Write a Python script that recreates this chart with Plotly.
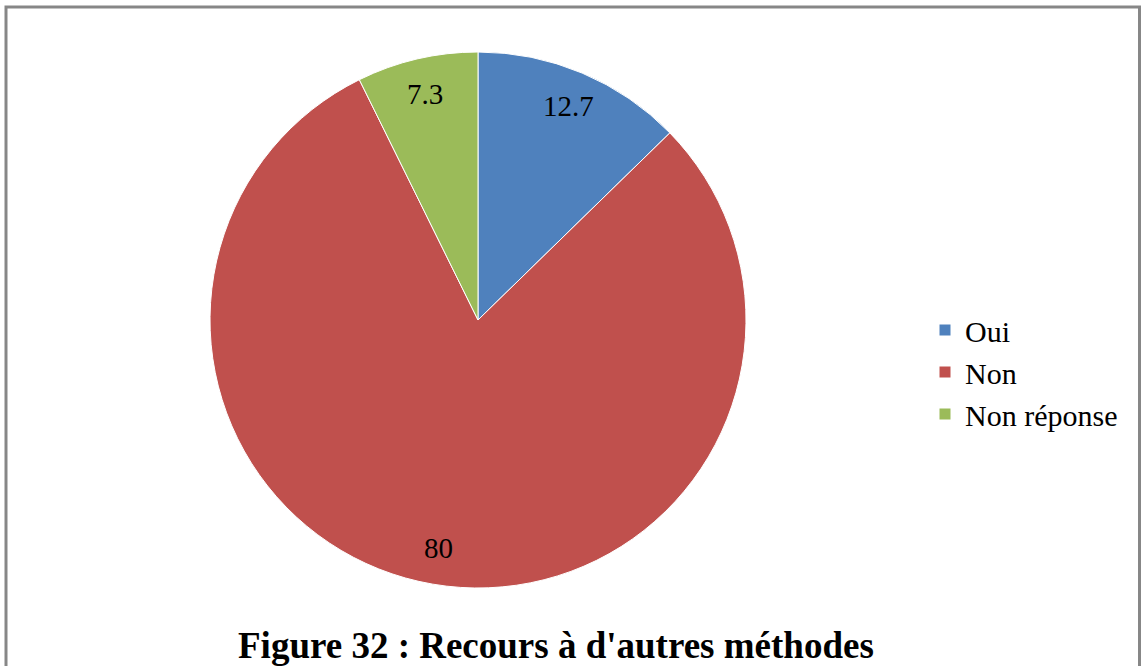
import math
import plotly.graph_objects as go

labels = ["Oui", "Non", "Non réponse"]
values = [12.7, 80, 7.3]
colors = ["#4F81BD", "#C0504D", "#9BBB59"]
title_text = "Figure 32 : Recours à d'autres méthodes"

W, H = 1141, 666
dom_x = [210 / W, 746 / W]
dom_y = [(H - 588) / H, (H - 52) / H]

fig = go.Figure()
fig.add_trace(go.Pie(
    labels=labels,
    values=values,
    sort=False,
    direction="clockwise",
    rotation=0,
    marker=dict(colors=colors, line=dict(color="white", width=1)),
    textinfo="none",
    hoverinfo="label+value",
    domain=dict(x=dom_x, y=dom_y),
    showlegend=True,
))

# value labels placed at each slice's mid-angle, near the outer edge
cx_px = (dom_x[0] + dom_x[1]) / 2 * W
cy_px = (dom_y[0] + dom_y[1]) / 2 * H
R_px = min((dom_x[1] - dom_x[0]) * W, (dom_y[1] - dom_y[0]) * H) / 2
total = sum(values)
cum = 0
annotations = []
for v in values:
    mid = (cum + v / 2) / total * 2 * math.pi
    cum += v
    r = 0.865 * R_px
    px = cx_px + r * math.sin(mid)
    py = cy_px + r * math.cos(mid)
    annotations.append(dict(
        x=px / W, y=py / H, xref="paper", yref="paper",
        text=f"{v:g}", showarrow=False,
        font=dict(family="Liberation Serif", size=29, color="black"),
        xanchor="center", yanchor="middle",
    ))

annotations.append(dict(
    x=556 / W, y=(H - 645) / H, xref="paper", yref="paper",
    text=f"<b>{title_text}</b>", showarrow=False,
    font=dict(family="Liberation Serif", size=37, color="black"),
    xanchor="center", yanchor="middle",
))

fig.update_layout(
    width=W, height=H,
    margin=dict(l=0, r=0, t=0, b=0),
    paper_bgcolor="white",
    plot_bgcolor="white",
    font=dict(family="Liberation Serif", size=30, color="black"),
    legend=dict(
        x=925 / W, y=(H - 372) / H, xanchor="left", yanchor="middle",
        font=dict(family="Liberation Serif", size=30, color="black"),
        bgcolor="rgba(0,0,0,0)",
        tracegroupgap=0,
    ),
    annotations=annotations,
    shapes=[dict(
        type="rect", xref="paper", yref="paper",
        x0=6 / W, x1=1139.5 / W, y0=-0.05, y1=(H - 7) / H,
        line=dict(color="#878787", width=3), layer="above",
    )],
)

fig.write_html(
    "out.html",
    config={"displayModeBar": False},
    post_script="document.body.style.margin='0';document.body.style.overflow='hidden';",
)
